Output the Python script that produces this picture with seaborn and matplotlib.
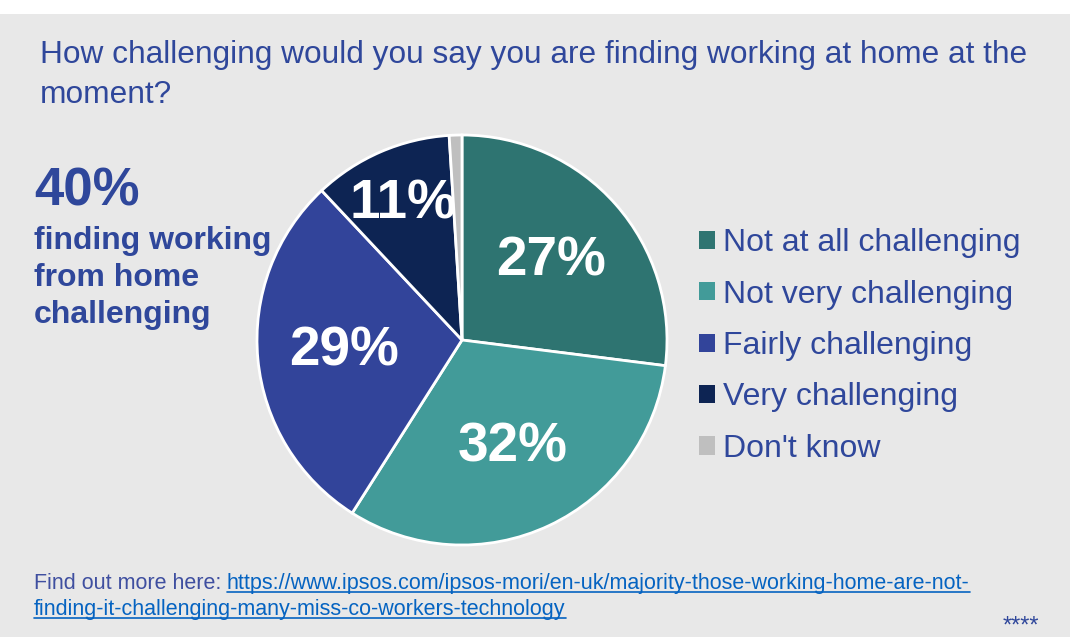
import matplotlib
matplotlib.use("Agg")
import matplotlib.pyplot as plt
import seaborn as sns
from matplotlib.patches import Rectangle, Patch
from matplotlib.lines import Line2D

# data
categories = ["Not at all challenging", "Not very challenging", "Fairly challenging",
              "Very challenging", "Don't know"]
shares = [27, 32, 29, 11, 1]
colours = ["#2e7471", "#429b99", "#32449a", "#0d2453", "#bfbfbf"]

title = "How challenging would you say you are finding working at home at the\nmoment?"
headline = "40%"
headline_sub = "finding working\nfrom home\nchallenging"
source_lead = "Find out more here: "
source_link = ["https://www.ipsos.com/ipsos-mori/en-uk/majority-those-working-home-are-not-",
               "finding-it-challenging-many-miss-co-workers-technology"]

sns.set_style("white")
plt.rcParams["font.family"] = ["Liberation Sans", "DejaVu Sans"]

text_blue = "#2f479b"
link_blue = "#0563c1"
W, H = 1077, 637

fig = plt.figure(figsize=(W / 100, H / 100), dpi=100, facecolor="white")
fig.patches.append(Rectangle((0, 0), 1070 / W, 623 / H, transform=fig.transFigure,
                             facecolor="#e8e8e8", edgecolor="none", zorder=-10))

# pie, centre (462, 340) px, radius 205 px
cx, cy, r = 462 / W, 1 - 340 / H, 205
ax = fig.add_axes([cx - r / W, cy - r / H, 2 * r / W, 2 * r / H])
ax.set_facecolor("none")
wedges, _, pct_texts = ax.pie(
    shares, colors=colours, startangle=90, counterclock=False,
    autopct=lambda p: f"{p:.0f}%" if p >= 5 else "", pctdistance=0.58,
    wedgeprops=dict(edgecolor="white", linewidth=2),
    textprops=dict(color="white", fontsize=39.5, fontweight="bold"))
# the small 11% slice has its label pushed outward
x, y = pct_texts[3].get_position()
pct_texts[3].set_position((x * 0.72 / 0.58, y * 0.72 / 0.58))
ax.set_xlim(-1, 1)
ax.set_ylim(-1, 1)
ax.axis("off")

handles = [Patch(facecolor=c, edgecolor="none") for c in colours]
fig.legend(handles, categories, loc="center left", bbox_to_anchor=(699 / W, 1 - 346 / H),
           frameon=False, fontsize=23, labelcolor=text_blue, borderpad=0, borderaxespad=0,
           handlelength=0.5, handleheight=0.5, handletextpad=0.25, labelspacing=0.67)

fig.text(40 / W, 1 - 40 / H, title, fontsize=22.8, color=text_blue, va="top",
         linespacing=1.45)
fig.text(34 / W, 1 - 205 / H, headline, fontsize=38, fontweight="bold", color=text_blue,
         va="baseline")
fig.text(34 / W, 1 - 226 / H, headline_sub, fontsize=23, fontweight="bold", color=text_blue,
         va="top", linespacing=1.3)

fig.text(34 / W, 1 - 589 / H, source_lead, fontsize=15.5, color="#3f4fa0", va="baseline")
links = [fig.text(227 / W, 1 - 589 / H, source_link[0], fontsize=15.5, color=link_blue,
                  va="baseline"),
         fig.text(34 / W, 1 - 615 / H, source_link[1], fontsize=15.5, color=link_blue,
                  va="baseline")]
fig.text(1021 / W, 1 - 633 / H, "****", fontsize=17, color=text_blue, ha="center",
         va="baseline")

# underline the link text
fig.canvas.draw()
renderer = fig.canvas.get_renderer()
for t in links:
    bb = t.get_window_extent(renderer).transformed(fig.transFigure.inverted())
    _, base_y = t.get_position()
    fig.add_artist(Line2D([bb.x0, bb.x1], [base_y - 3 / H, base_y - 3 / H],
                          transform=fig.transFigure, color=link_blue, linewidth=1.2))

fig.savefig("out.png", dpi=100, facecolor=fig.get_facecolor())
